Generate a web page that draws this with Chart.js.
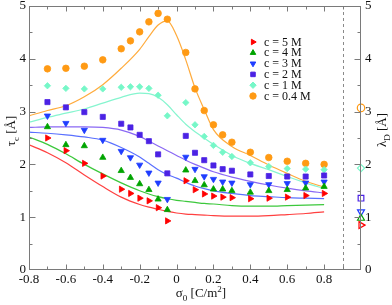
<!DOCTYPE html>
<html>
<head>
<meta charset="utf-8">
<script src="https://cdn.jsdelivr.net/npm/chart.js@4.4.0/dist/chart.umd.min.js"></script>
<style>
  html, body { margin: 0; padding: 0; background: #fff; }
  #wrap { width: 392px; height: 305px; }
</style>
</head>
<body>
<div id="wrap"><canvas id="chart" width="392" height="305"></canvas></div>
<script>
// === Data ===
const concLabels = ['c = 5 M', 'c = 4 M', 'c = 3 M', 'c = 2 M', 'c = 1 M', 'c = 0.4 M'];

// simulation points (sigma_0 in C/m^2)
const sigmaPts = [-0.7, -0.6, -0.5, -0.4, -0.3, -0.25, -0.2, -0.15, -0.1, -0.05, 0.05, 0.1, 0.15, 0.2, 0.25, 0.3, 0.4, 0.5, 0.6, 0.7, 0.8];
const tau5M  = [2.50, 2.26, 2.02, 1.78, 1.53, 1.45, 1.36, 1.31, 1.18, 0.93, 1.69, 1.52, 1.44, 1.40, 1.38, 1.37, 1.35, 1.36, 1.38, 1.41, 1.45];
const tau4M  = [2.71, 2.37, 2.35, 2.13, 1.88, 1.75, 1.63, 1.52, 1.34, 1.14, 1.89, 1.69, 1.61, 1.53, 1.53, 1.50, 1.47, 1.50, 1.52, 1.55, 1.58];
const tau3M  = [2.92, 2.78, 2.65, 2.46, 2.25, 2.13, 1.99, 1.84, 1.65, 1.34, 2.14, 1.91, 1.77, 1.72, 1.67, 1.65, 1.62, 1.62, 1.64, 1.65, 1.67];
const tau2M  = [3.18, 3.08, 2.99, 2.90, 2.77, 2.70, 2.56, 2.44, 2.19, 1.83, 2.54, 2.22, 2.08, 1.98, 1.91, 1.88, 1.81, 1.78, 1.77, 1.77, 1.79];
const tau1M  = [3.49, 3.44, 3.43, 3.43, 3.46, 3.47, 3.47, 3.44, 3.31, 2.92, 3.17, 2.75, 2.53, 2.36, 2.23, 2.15, 2.03, 1.96, 1.92, 1.91, 1.90];
const tau04M = [3.81, 3.82, 3.86, 3.98, 4.19, 4.34, 4.51, 4.70, 4.86, 4.75, 4.12, 3.43, 3.02, 2.75, 2.56, 2.42, 2.23, 2.13, 2.06, 2.02, 2.00];

// model curves
const sigmaFit = [-0.8, -0.7, -0.6, -0.5, -0.4, -0.3, -0.2, -0.15, -0.1, -0.05, 0, 0.05, 0.1, 0.15, 0.2, 0.3, 0.4, 0.5, 0.6, 0.7, 0.8];
const fit5M  = [2.37, 2.22, 2.03, 1.80, 1.58, 1.38, 1.24, 1.19, 1.15, 1.11, 1.08, 1.06, 1.05, 1.04, 1.03, 1.02, 1.02, 1.03, 1.05, 1.07, 1.10];
const fit4M  = [2.52, 2.38, 2.20, 2.00, 1.82, 1.65, 1.50, 1.44, 1.39, 1.35, 1.32, 1.30, 1.28, 1.26, 1.25, 1.22, 1.21, 1.21, 1.22, 1.23, 1.24];
const fit3M  = [2.61, 2.59, 2.56, 2.52, 2.46, 2.32, 2.14, 2.02, 1.90, 1.81, 1.74, 1.66, 1.59, 1.54, 1.50, 1.45, 1.41, 1.39, 1.37, 1.36, 1.35];
const fit2M  = [2.70, 2.71, 2.71, 2.71, 2.70, 2.65, 2.53, 2.44, 2.35, 2.26, 2.17, 2.08, 2.00, 1.93, 1.86, 1.76, 1.68, 1.61, 1.55, 1.50, 1.46];
const fit1M  = [2.80, 2.89, 2.97, 3.05, 3.16, 3.27, 3.35, 3.34, 3.27, 3.13, 2.94, 2.76, 2.62, 2.50, 2.38, 2.17, 2.02, 1.90, 1.77, 1.65, 1.54];
const fit04M = [2.92, 3.02, 3.11, 3.28, 3.51, 3.82, 4.18, 4.42, 4.64, 4.72, 4.44, 3.98, 3.45, 3.04, 2.66, 2.34, 2.17, 1.99, 1.83, 1.68, 1.57];

// Debye lengths, plotted on the right axis
const lambdaD = [0.85, 0.98, 1.10, 1.36, 1.93, 3.07];
const lambdaX = 1.0;
const dashX = 0.9;

const xTicks = [-0.8, -0.6, -0.4, -0.2, 0, 0.2, 0.4, 0.6, 0.8];
const yTicks = [0, 1, 2, 3, 4, 5];

// === Styles ===
const markerColors = ['#ff0000', '#00a400', '#1f3dff', '#4b22e4', '#76f7c8', '#ff9a14'];
const lineColors   = ['#ff4040', '#3cc83c', '#5a70ff', '#8a68f4', '#86f5cf', '#ffab3c'];
const shapes  = ['triangle', 'triangle', 'triangle', 'rect', 'rectRot', 'circle'];
const rots    = [90, 0, 180, 0, 0, 0];
const radii   = [3.6, 3.6, 3.6, 3.6, 3.2, 3.3];
const serif = '"Liberation Serif", "DejaVu Serif", serif';

const ptsSeries = [tau5M, tau4M, tau3M, tau2M, tau1M, tau04M];
const fitSeries = [fit5M, fit4M, fit3M, fit2M, fit1M, fit04M];

const datasets = [];
fitSeries.forEach((ys, i) => {
  datasets.push({
    data: sigmaFit.map((x, k) => ({ x, y: ys[k] })),
    showLine: true, borderColor: lineColors[i], borderWidth: 1.2,
    pointRadius: 0, cubicInterpolationMode: 'monotone', yAxisID: 'y', order: 2
  });
});
ptsSeries.forEach((ys, i) => {
  datasets.push({
    data: sigmaPts.map((x, k) => ({ x, y: ys[k] })),
    showLine: false, pointStyle: shapes[i], rotation: rots[i], pointRadius: radii[i],
    backgroundColor: markerColors[i], borderColor: markerColors[i], borderWidth: 0.8,
    yAxisID: 'y', order: 1
  });
  datasets.push({
    data: [{ x: lambdaX, y: lambdaD[i] }],
    showLine: false, pointStyle: shapes[i], rotation: rots[i], pointRadius: radii[i] + 0.4,
    backgroundColor: 'rgba(255,255,255,0)', borderColor: markerColors[i], borderWidth: 1.2,
    yAxisID: 'y2', clip: false, order: 0
  });
});

// rich text with sub/superscripts
function richText(ctx, runs, cx, cy, size) {
  const small = Math.round(size * 0.72);
  let w = 0;
  runs.forEach(r => {
    ctx.font = `${r[1] === 'n' ? size : small}px ${serif}`;
    w += ctx.measureText(r[0]).width;
  });
  let x = cx - w / 2;
  ctx.textAlign = 'left';
  ctx.textBaseline = 'alphabetic';
  runs.forEach(r => {
    const sz = r[1] === 'n' ? size : small;
    ctx.font = `${sz}px ${serif}`;
    const dy = r[1] === 'sub' ? size * 0.3 : r[1] === 'sup' ? -size * 0.42 : 0;
    ctx.fillText(r[0], x, cy + dy);
    x += ctx.measureText(r[0]).width;
  });
}

const framePlugin = {
  id: 'frame',
  beforeDatasetsDraw(chart) {
    const { ctx, chartArea: a, scales } = chart;
    const xd = Math.round(scales.x.getPixelForValue(dashX)) + 0.5;
    ctx.save();
    ctx.strokeStyle = '#8a8a8a';
    ctx.lineWidth = 1;
    ctx.setLineDash([3, 3]);
    ctx.beginPath(); ctx.moveTo(xd, a.top); ctx.lineTo(xd, a.bottom); ctx.stroke();
    ctx.restore();
  },
  afterDraw(chart) {
    const { ctx, chartArea: a, scales } = chart;
    ctx.save();
    ctx.strokeStyle = '#7a7a7a';
    ctx.lineWidth = 1;
    const L = a.left + 0.5, R = a.right - 0.5, T = a.top + 0.5, B = a.bottom - 0.5;
    ctx.strokeRect(L, T, R - L, B - T);
    ctx.beginPath();
    for (let k = -7; k <= 9; k++) {
      const v = k / 10;
      const px = Math.round(scales.x.getPixelForValue(v)) + 0.5;
      const len = (k % 2 === 0) ? 5 : 3;
      ctx.moveTo(px, B); ctx.lineTo(px, B - len);
      ctx.moveTo(px, T); ctx.lineTo(px, T + len);
    }
    for (let k = 1; k < 10; k++) {
      const v = k / 2;
      const py = Math.round(scales.y.getPixelForValue(v)) + 0.5;
      const len = (k % 2 === 0) ? 6 : 3;
      ctx.moveTo(L, py); ctx.lineTo(L + len, py);
      ctx.moveTo(R, py); ctx.lineTo(R - len, py);
    }
    ctx.stroke();

    // axis titles
    ctx.fillStyle = '#111';
    richText(ctx, [['σ', 'n'], ['0', 'sub'], [' [C/m', 'n'], ['2', 'sup'], [']', 'n']], 201, 297, 13);
    ctx.save();
    ctx.translate(15, 131); ctx.rotate(-Math.PI / 2);
    richText(ctx, [['τ', 'n'], ['c', 'sub'], [' [Å]', 'n']], 0, 0, 13);
    ctx.restore();
    ctx.save();
    ctx.translate(386, 130); ctx.rotate(-Math.PI / 2);
    richText(ctx, [['λ', 'n'], ['D', 'sub'], [' [Å]', 'n']], 0, 0, 13);
    ctx.restore();

    // legend
    const lx = 253, tx = 264, ly0 = 42, dy = 10.8;
    concLabels.forEach((lab, i) => {
      const y = ly0 + i * dy;
      ctx.fillStyle = markerColors[i];
      ctx.strokeStyle = markerColors[i];
      Chart.helpers.drawPoint(ctx, { pointStyle: shapes[i], rotation: rots[i], radius: 3.2, borderWidth: 0.8 }, lx, y);
      ctx.fillStyle = '#111';
      ctx.font = `12px ${serif}`;
      ctx.textAlign = 'left';
      ctx.textBaseline = 'middle';
      ctx.fillText(lab, tx, y + 0.5);
    });
    ctx.restore();
  }
};

const tickFont = { family: serif, size: 13 };
const fixWidth = w => s => { s.width = w; s.paddingTop = 0; s.paddingBottom = 0; };

new Chart(document.getElementById('chart'), {
  type: 'scatter',
  data: { datasets },
  options: {
    responsive: false,
    animation: false,
    layout: { padding: { top: 6, left: 0, right: 0, bottom: 0 } },
    plugins: { legend: { display: false }, tooltip: { enabled: false } },
    scales: {
      x: {
        type: 'linear', min: -0.8, max: 1.0, position: 'bottom',
        grid: { display: false, drawTicks: false }, border: { display: false },
        afterBuildTicks: s => { s.ticks = xTicks.map(v => ({ value: v })); },
        ticks: { font: tickFont, color: '#111', padding: 2, maxRotation: 0, autoSkip: false,
          callback: v => String(Math.round(v * 10) / 10) },
        afterFit: s => { s.height = 35; s.paddingLeft = 0; s.paddingRight = 0; }
      },
      y: {
        type: 'linear', min: 0, max: 5, position: 'left',
        grid: { display: false, drawTicks: false }, border: { display: false },
        afterBuildTicks: s => { s.ticks = yTicks.map(v => ({ value: v })); },
        ticks: { font: tickFont, color: '#111', padding: 3 },
        afterFit: fixWidth(29)
      },
      y2: {
        type: 'linear', min: 0, max: 5, position: 'right',
        grid: { display: false, drawTicks: false }, border: { display: false },
        afterBuildTicks: s => { s.ticks = yTicks.map(v => ({ value: v })); },
        ticks: { font: tickFont, color: '#111', padding: 4 },
        afterFit: fixWidth(31)
      }
    }
  },
  plugins: [framePlugin]
});
</script>
</body>
</html>
